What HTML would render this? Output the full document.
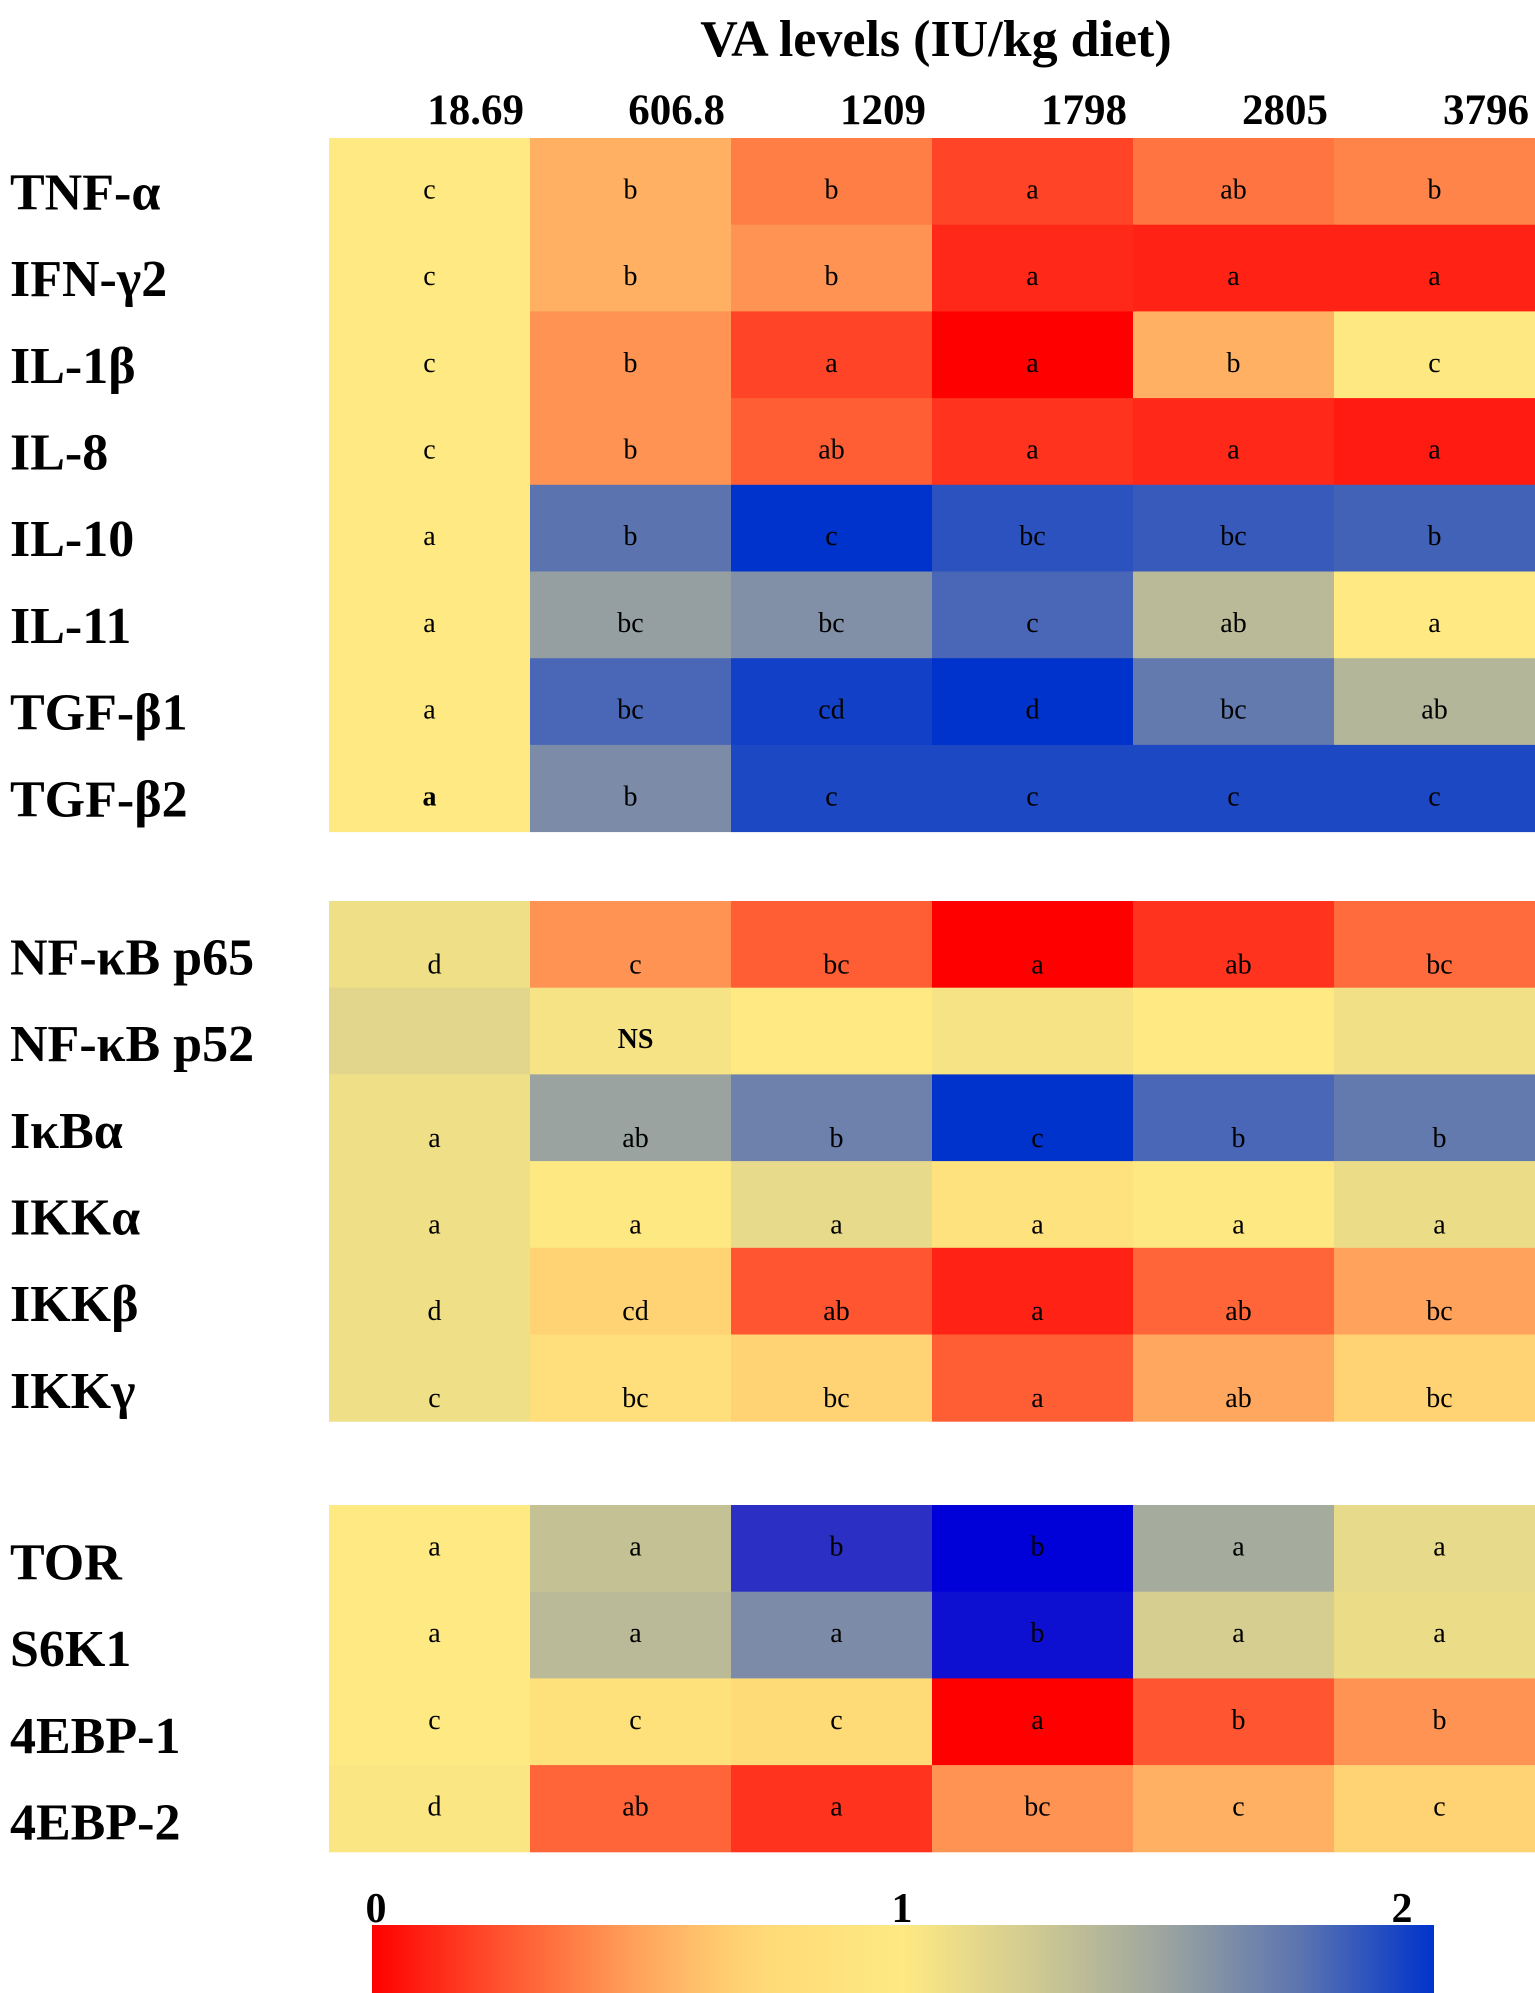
<!DOCTYPE html>
<html><head><meta charset="utf-8"><style>
html,body{margin:0;padding:0;background:#fff;}
svg{display:block;font-family:"Liberation Serif","DejaVu Serif",serif;}
</style></head><body>
<svg id="chart" width="1535" height="1993" viewBox="0 0 1535 1993" xmlns="http://www.w3.org/2000/svg">
<defs></defs>
<text x="936" y="56" font-size="52" font-weight="bold" text-anchor="middle">VA levels (IU/kg diet)</text>
<g id="cols"></g><g id="rows"></g><g id="cells"></g>
<g>
<rect x="372" y="1925" width="1062" height="68" fill="url(#cb2)"/>
</g>
<g id="cbticks"></g>
</svg>
<script>
const columns = ["18.69","606.8","1209","1798","2805","3796"];
const rowLabels = ["TNF-α","IFN-γ2","IL-1β","IL-8","IL-10","IL-11","TGF-β1","TGF-β2","NF-κB p65","NF-κB p52","IκBα","IKKα","IKKβ","IKKγ","TOR","S6K1","4EBP-1","4EBP-2"];
const rowGroup = [0,0,0,0,0,0,0,0,1,1,1,1,1,1,2,2,2,2];
const values = [
[1.0,0.55,0.38,0.2,0.35,0.4],
[1.0,0.55,0.45,0.12,0.1,0.1],
[1.0,0.45,0.2,0.0,0.55,0.98],
[1.0,0.45,0.28,0.15,0.12,0.08],
[1.0,1.75,2.0,1.88,1.85,1.82],
[1.0,1.52,1.6,1.8,1.35,1.0],
[1.0,1.8,1.95,2.0,1.72,1.38],
[1.0,1.62,1.92,1.92,1.92,1.92],
[1.08,0.45,0.28,0.0,0.15,0.32],
[1.15,1.05,1.0,1.05,1.0,1.07],
[1.08,1.5,1.68,2.0,1.8,1.72],
[1.08,0.98,1.12,0.88,0.98,1.1],
[1.08,0.7,0.25,0.1,0.3,0.5],
[1.08,0.82,0.7,0.28,0.52,0.7],
[1.0,1.3,2.1,2.25,1.45,1.12],
[1.0,1.35,1.62,2.2,1.22,1.1],
[1.0,0.85,0.75,0.0,0.25,0.45],
[1.02,0.3,0.15,0.45,0.55,0.7]];
const letters = [
["c","b","b","a","ab","b"],["c","b","b","a","a","a"],["c","b","a","a","b","c"],["c","b","ab","a","a","a"],
["a","b","c","bc","bc","b"],["a","bc","bc","c","ab","a"],["a","bc","cd","d","bc","ab"],["a","b","c","c","c","c"],
["d","c","bc","a","ab","bc"],["","NS","","","",""],["a","ab","b","c","b","b"],["a","a","a","a","a","a"],
["d","cd","ab","a","ab","bc"],["c","bc","bc","a","ab","bc"],
["a","a","b","b","a","a"],["a","a","a","b","a","a"],["c","c","c","a","b","b"],["d","ab","a","bc","c","c"]];
const cbTicks = [0,1,2];

const stops=[[0,[255,0,0]],[0.25,[255,42,26]],[0.5,[255,85,48]],[0.75,[255,124,69]],[1.0,[255,162,92]],[1.25,[255,196,108]],[1.5,[255,219,120]],[2.0,[254,233,130]],[2.5,[207,202,146]],[3.0,[154,163,160]],[3.5,[91,116,176]],[4.0,[0,51,204]],[4.2,[43,47,196]],[4.5,[0,0,216]]];
function color(v){const t=v*2;for(let i=0;i<stops.length-1;i++){const a=stops[i],b=stops[i+1];if(t<=b[0]||i==stops.length-2){let f=Math.max(0,Math.min(1,(t-a[0])/(b[0]-a[0])));const c=a[1].map((x,k)=>Math.round(x+(b[1][k]-x)*f));return `rgb(${c.join(',')})`;}}}
const NS="http://www.w3.org/2000/svg";
const x0=329,colW=201,rowH=86.7,groupTop=[138,901,1505];
const groupStart=[0,8,14];
const xPos=i=>x0+i*colW;
const yPos=r=>groupTop[rowGroup[r]]+(r-groupStart[rowGroup[r]])*rowH;
const textOff=[8,20,-2], labOff=[10,12,13];
function mk(tag,attrs,parent){const e=document.createElementNS(NS,tag);for(const k in attrs)e.setAttribute(k,attrs[k]);parent.appendChild(e);return e;}
const svg=document.getElementById('chart');
const gc=document.getElementById('cells'),gr=document.getElementById('rows'),gcol=document.getElementById('cols');
const g2=mk('linearGradient',{id:'cb2',x1:'0',x2:'1',y1:'0',y2:'0'},svg.querySelector('defs'));
for(let i=0;i<=40;i++){mk('stop',{offset:(i/40).toFixed(3),'stop-color':color(i/20)},g2);}
columns.forEach((c,i)=>{const t=mk('text',{x:xPos(i)+colW-6,y:124,'font-size':43,'font-weight':'bold','text-anchor':'end'},gcol);t.textContent=c;

});
rowLabels.forEach((lab,r)=>{const g=rowGroup[r];const y=yPos(r);
const t=mk('text',{x:10,y:y+rowH/2+labOff[g]+18,'font-size':52,'font-weight':'bold'},gr);t.textContent=lab;


values[r].forEach((v,i)=>{const rc=mk('rect',{x:xPos(i),y:y,width:colW+0.5,height:rowH+0.5,fill:color(v)},gc);


const L=letters[r][i];if(L){const tx=mk('text',{x:xPos(i)+colW/2+(g?5:0),y:y+rowH/2+textOff[g]+(L=="NS"?-12:0)+9,'font-size':28,'font-weight':(L=="NS"||(r==7&&i==0))?'bold':'normal','text-anchor':'middle'},gc);tx.textContent=L;

}});});
const gt=document.getElementById('cbticks');
cbTicks.forEach(v=>{const t=mk('text',{x:[376,902,1402][v],y:1922,'font-size':42,'font-weight':'bold','text-anchor':'middle'},gt);t.textContent=String(v);

});
</script>
</body></html>
